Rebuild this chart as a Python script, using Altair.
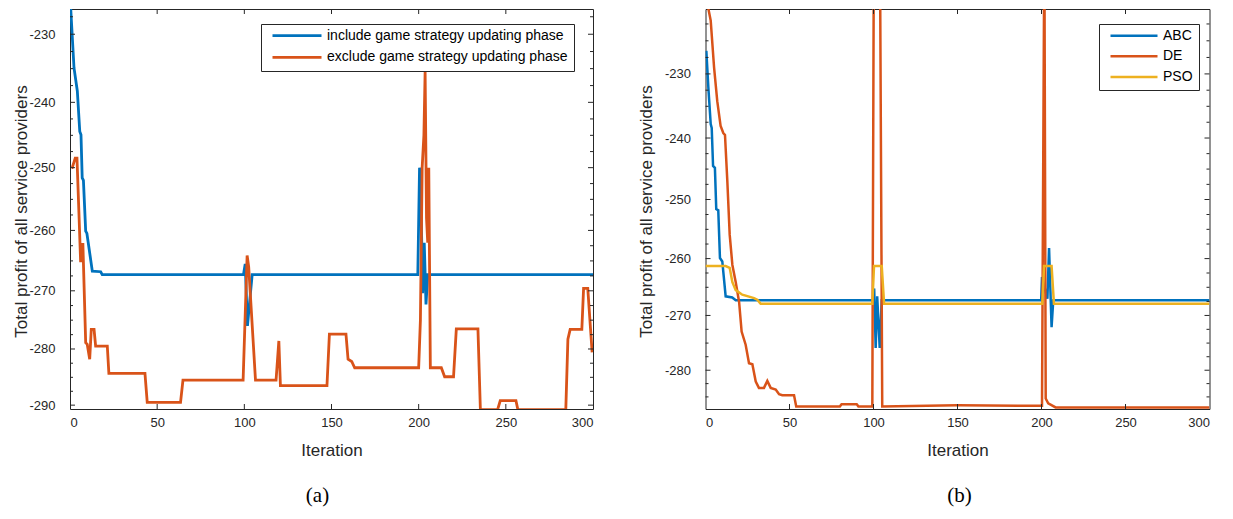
import altair as alt
import pandas as pd

# ---------------- data ----------------
# Panel (a)
a_names = ["include game strategy updating phase", "exclude game strategy updating phase"]
a_inc_it = [0, 2.3, 4.2, 5.6, 6.3, 7.0, 7.7, 9.0, 9.7, 12.8, 17.6, 18.5, 99.5, 100.5, 101.8, 103.0,
            104.5, 199.5, 200.5, 201.5, 202.3, 203.2, 204.2, 205.2, 300]
a_inc_v = [-224.5, -234.9, -238.3, -244.4, -244.9, -251.6, -252.0, -260.1, -260.5, -266.7, -266.8, -267.3,
           -267.3, -265.5, -276.0, -272.0, -267.3, -267.3, -250.0, -258.0, -270.4, -262.0, -272.3, -267.3, -267.3]
a_exc_it = [1, 1.3, 3, 4, 5.2, 6.1, 6.7, 7.4, 9.0, 9.9, 11.3, 12.2, 13.8, 14.7, 21.4, 22.3, 43.0, 44.3,
            63.4, 64.8, 99.3, 101.6, 102.5, 106.4, 118.2, 119.8, 120.7, 147.4, 148.8, 158.3, 159.5, 161.6,
            163.3, 200.0, 201, 202, 203, 203.7, 204.5, 205.2, 205.8, 206.7, 213.0, 214.9, 220.0, 221.6,
            234.0, 235.4, 245.3, 246.8, 255.8, 256.9, 284.4, 285.6, 286.9, 293.6, 294.6, 297.0, 299.5]
a_exc_v = [-250.0, -250.0, -248.5, -248.5, -257.8, -265.2, -262.3, -262.3, -278.9, -279.2, -281.8, -276.6,
           -276.6, -279.5, -279.5, -284.3, -284.3, -289.5, -289.5, -285.5, -285.5, -264.1, -266.0, -285.5,
           -285.5, -278.6, -286.5, -286.5, -277.4, -277.4, -281.8, -282.2, -283.3, -283.3, -275.0, -250.0,
           -245.0, -235.5, -258.0, -262.0, -250.0, -283.3, -283.3, -284.9, -284.9, -276.5, -276.5, -290.8,
           -290.8, -289.2, -289.2, -290.8, -290.8, -278.3, -276.6, -276.6, -269.6, -269.6, -280.6]

# Panel (b)
b_names = ["ABC", "DE", "PSO"]
b_abc_it = [0.5, 1.7, 3.1, 3.7, 4.5, 5.6, 6.4, 7.6, 8.6, 10.0, 12.0, 15.9, 18.0, 99.8, 100.4, 101.3, 102.2,
            103.7, 104.9, 199.8, 200.3, 203.5, 204.5, 206.0, 207.0, 300]
b_abc_v = [-226.5, -232.1, -237.8, -238.4, -244.5, -244.8, -251.6, -251.8, -259.9, -260.5, -266.6, -266.8,
           -267.3, -267.3, -265.2, -275.9, -266.6, -275.9, -267.3, -267.3, -263.2, -267.0, -258.2, -272.1,
           -267.3, -267.3]
b_de_it = [1.1, 3.1, 5.1, 7.0, 9.0, 10.6, 11.6, 13.0, 14.4, 16.0, 18.0, 20.0, 21.5, 23.9, 25.9, 27.9, 29.9,
           31.8, 34.8, 36.8, 38.8, 41.8, 43.8, 45.7, 52.7, 54.0, 80.0, 81.0, 90.0, 91.0, 99.3, 100.3, 103.7,
           105.2, 150.0, 200.3, 201.7, 202.5, 204.0, 208.4, 300]
b_de_v = [-219.5, -222.0, -229.0, -234.2, -238.1, -239.2, -239.5, -247.0, -255.9, -261.1, -264.1, -267.6,
          -272.9, -275.3, -278.7, -278.9, -282.1, -283.3, -283.3, -282.0, -283.3, -283.6, -284.5, -284.7,
          -284.7, -286.8, -286.8, -286.4, -286.4, -286.8, -286.8, -205.0, -205.0, -286.8, -286.6, -286.7,
          -210.0, -285.3, -286.2, -287.0, -287.0]
b_pso_it = [0, 12.0, 14.4, 16.0, 18.0, 21.9, 28.9, 30.8, 32.8, 99.3, 100.3, 104.9, 106.3, 200.5, 201.5,
            206.0, 207.4, 300]
b_pso_v = [-261.3, -261.3, -261.6, -264.1, -265.5, -266.3, -266.9, -267.2, -267.9, -267.9, -261.3, -261.3,
           -267.9, -267.9, -261.3, -261.3, -267.9, -267.9]

# tick values
x_ticks = [0, 50, 100, 150, 200, 250, 300]
a_y_major = [-230, -240, -250, -260, -270, -280, -290]
a_y_minor = [-227.5, -232.5, -235, -237.5, -242.5, -245, -247.5, -252.5, -255, -257.5, -262.5, -265,
             -267.5, -272.5, -275, -277.5, -282.5, -285, -287.5]
b_y_major = [-230, -240, -250, -260, -270, -280]
b_y_minor = [-222.5, -225, -227.5, -232.5, -235, -237.5, -242.5, -245, -247.5, -252.5, -255, -257.5,
             -262.5, -265, -267.5, -272.5, -275, -277.5, -282.5, -285]

a_domain = [-290.7, -226.4]
b_domain = [-287.3, -220.3]

BLUE, ORANGE, YELLOW = "#0072BD", "#D95319", "#EDB120"
AX = "#262626"
YTITLE = "Total profit of all service providers"


def long_df(names, its, vals):
    rows = []
    for n, i_list, v_list in zip(names, its, vals):
        for i, v in zip(i_list, v_list):
            rows.append({"it": i, "val": v, "series": n})
    return pd.DataFrame(rows)


def panel(df, names, colors, domain, y_major, y_minor, width, height, leg_x, leg_y, row_pad,
          sym_size, stroke_w, letter, ytitle_x, letter_dx):
    xs = alt.Scale(domain=[0, 300], nice=False, zero=False)
    ys = alt.Scale(type="log", domain=domain, nice=False, zero=False)
    xax = alt.Axis(values=x_ticks, title="Iteration", ticks=False, tickSize=0, domain=False,
                   labelPadding=7, titleY=33, grid=False)
    yax = alt.Axis(values=y_major, title=YTITLE, ticks=False, tickSize=0, domain=False,
                   labelPadding=15, labelExpr="'' + datum.value", grid=False,
                   titleX=ytitle_x, titleY=height / 2 + 2)
    X = alt.X("it:Q", scale=xs, axis=xax)
    Y = alt.Y("val:Q", scale=ys, axis=yax)
    lines = alt.Chart(df).mark_line(clip=True, strokeWidth=stroke_w).encode(
        x=X, y=Y,
        color=alt.Color("series:N", scale=alt.Scale(domain=names, range=colors),
                        legend=alt.Legend(title=None, orient="none", legendX=leg_x, legendY=leg_y,
                                          symbolType="stroke", symbolSize=sym_size,
                                          symbolStrokeWidth=stroke_w, clipHeight=11.4,
                                          rowPadding=row_pad, padding=6, symbolOffset=4,
                                          labelOffset=4, labelFontSize=14, labelFont="Liberation Sans",
                                          labelColor="black", strokeColor=AX, fillColor="white",
                                          direction="vertical", labelLimit=400)),
    )
    xt = pd.DataFrame({"it": x_ticks[1:-1]})
    ymaj = pd.DataFrame({"val": y_major})
    ymin = pd.DataFrame({"val": y_minor})
    rule = dict(color=AX, strokeWidth=1)
    bot = alt.Chart(xt).mark_rule(**rule).encode(x=X, y=alt.value(height), y2=alt.value(height - 5))
    top = alt.Chart(xt).mark_rule(**rule).encode(x=X, y=alt.value(0), y2=alt.value(5))
    lmaj = alt.Chart(ymaj).mark_rule(**rule).encode(y=Y, x=alt.value(0), x2=alt.value(5))
    rmaj = alt.Chart(ymaj).mark_rule(**rule).encode(y=Y, x=alt.value(width - 5), x2=alt.value(width))
    lmin = alt.Chart(ymin).mark_rule(**rule).encode(y=Y, x=alt.value(0), x2=alt.value(3))
    rmin = alt.Chart(ymin).mark_rule(**rule).encode(y=Y, x=alt.value(width - 3), x2=alt.value(width))
    return alt.layer(lines, bot, top, lmaj, rmaj, lmin, rmin).properties(
        width=width, height=height,
        title=alt.TitleParams(text=letter, orient="bottom", anchor="middle", font="Liberation Serif",
                              fontSize=21, fontWeight="normal", color="black", offset=27, dx=letter_dx),
    )


df_a = long_df(a_names, [a_inc_it, a_exc_it], [a_inc_v, a_exc_v])
df_b = long_df(b_names, [b_abc_it, b_de_it, b_pso_it], [b_abc_v, b_de_v, b_pso_v])

left = panel(df_a, a_names, [BLUE, ORANGE], a_domain, a_y_major, a_y_minor, 523, 400,
             191, 15, 6.6, 2401, 2.8, "(a)", -40, -14)
right = panel(df_b, b_names, [BLUE, ORANGE, YELLOW], b_domain, b_y_major, b_y_minor, 504, 400,
              393.5, 15, 5.6, 2209, 2.5, "(b)", -50.5, 2)

chart = alt.hconcat(left, right, spacing=112.5, bounds="flush").resolve_scale(
    color="independent", x="independent", y="independent"
).resolve_legend(color="independent").properties(
    padding={"left": 11, "top": 8, "right": 5, "bottom": 5}, background="white"
).configure_view(stroke=AX, strokeWidth=1).configure_axis(
    labelFont="Liberation Sans", labelFontSize=13, labelColor=AX,
    titleFont="Liberation Sans", titleFontSize=17, titleFontWeight="normal", titleColor=AX,
)

chart.save("out.html", embed_options={"renderer": "svg", "actions": False})
